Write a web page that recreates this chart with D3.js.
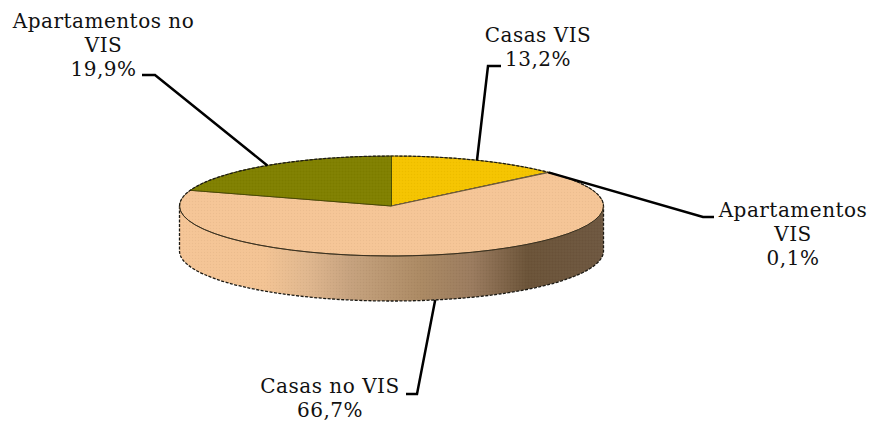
<!DOCTYPE html>
<html><head><meta charset="utf-8">
<script src="https://cdnjs.cloudflare.com/ajax/libs/d3/7.8.5/d3.min.js"></script>
<style>html,body{margin:0;padding:0;background:#fff;overflow:hidden}svg{display:block}</style>
</head><body><svg id="c" width="872" height="421"></svg>
<script>
const categories = ["Casas VIS","Apartamentos VIS","Casas no VIS","Apartamentos no VIS"];
const values = [13.2,0.1,66.7,19.9];
const valueLabels = ["13,2%","0,1%","66,7%","19,9%"];
const labelLines = [["Casas VIS"],["Apartamentos","VIS"],["Casas no VIS"],["Apartamentos no","VIS"]];
const colors = ["#F5C400","#F8D9A0","#F5C596","#808000"];

const cx=391.5,cy=206,rx=212,ry=50,depth=45;
const svg=d3.select("#c");
const X=d3.scaleLinear().domain([-1,1]).range([cx-rx,cx+rx]);
const Y=d3.scaleLinear().domain([-1,1]).range([cy-ry,cy+ry]);
const pie=d3.pie().sort(null).value(d=>d)(values);
const arc=d3.arc().innerRadius(0).outerRadius(1);
const proj=(a,dy=0)=>[X(Math.sin(a)),Y(-Math.cos(a))+dy];

const defs=svg.append("defs");
const grad=defs.append("linearGradient").attr("id","side").attr("gradientUnits","userSpaceOnUse")
  .attr("x1",cx-rx).attr("x2",cx+rx).attr("y1",0).attr("y2",0);
[[0,"#F5C596"],[0.2,"#F3C393"],[0.3,"#E0B78E"],[0.4,"#C6A27E"],[0.57,"#AB8963"],[0.69,"#9A7B5E"],[0.82,"#6B5338"],[1,"#6E5740"]]
  .forEach(([o,c])=>grad.append("stop").attr("offset",o).attr("stop-color",c));
const dots=defs.append("pattern").attr("id","dots").attr("width",3).attr("height",3).attr("patternUnits","userSpaceOnUse");
dots.append("rect").attr("width",1).attr("height",1).attr("fill","#000").attr("opacity",0.04);
dots.append("rect").attr("x",1.5).attr("y",1.5).attr("width",1).attr("height",1).attr("fill","#fff").attr("opacity",0.06);

// side wall
const L=X(-1),R=X(1);
const wall=`M${L},${cy}A${rx},${ry} 0 0 0 ${R},${cy}L${R},${cy+depth}A${rx},${ry} 0 0 1 ${L},${cy+depth}Z`;
svg.append("path").attr("d",wall).attr("fill","url(#side)");
svg.append("path").attr("d",wall).attr("fill","url(#dots)");
svg.append("path")
  .attr("d",`M${L},${cy}L${L},${cy+depth}A${rx},${ry} 0 0 0 ${R},${cy+depth}L${R},${cy}`)
  .attr("fill","none").attr("stroke","#1c1a14").attr("stroke-width",1.3).attr("stroke-dasharray","3 1.5");

// top face
const topFace=svg.append("g").attr("transform",`translate(${X(0)},${Y(0)}) scale(${rx},${ry})`);
topFace.selectAll("path.s").data(pie).join("path").attr("class","s")
  .attr("d",arc).attr("fill",(d,i)=>colors[i])
  .attr("stroke",(d,i)=>i===3?"#4a4a00":i===0?"#7d6a10":"#6a5838")
  .attr("stroke-width",1).attr("vector-effect","non-scaling-stroke");
svg.append("ellipse").attr("cx",cx).attr("cy",cy).attr("rx",rx).attr("ry",ry).attr("fill","url(#dots)");
// dotted back rim, continuous front rim
svg.append("path")
  .attr("d",`M${L},${cy}A${rx},${ry} 0 0 1 ${R},${cy}`)
  .attr("fill","none").attr("stroke","#1c1a14").attr("stroke-width",1.2).attr("stroke-dasharray","3 1.5");
svg.append("path")
  .attr("d",`M${L},${cy}A${rx},${ry} 0 0 0 ${R},${cy}`)
  .attr("fill","none").attr("stroke","#3a3020").attr("stroke-width",1);

// leader lines
const bends=[[[488,66],[501,66]],[[703,217],[714,217]],[[417,394],[406,394]],[[155,75],[142,75]]];
const line=d3.line();
const anchors=pie.map((d,i)=>{const m=(d.startAngle+d.endAngle)/2;return proj(m,i===2?depth:0);});
svg.append("g").selectAll("path").data(bends).join("path")
  .attr("d",(b,i)=>line([anchors[i],...b]))
  .attr("fill","none").attr("stroke","#000").attr("stroke-width",2.5);

// labels
const labelX=[538,793,330,103.5];
const labelY=[42,217,393,28];
const step=24;
const g=svg.append("g").attr("font-family","'DejaVu Serif',serif").attr("font-size",20).attr("letter-spacing",0.5).attr("fill","#111").attr("text-anchor","middle");
categories.forEach((c,i)=>{
  const lines=[...labelLines[i],valueLabels[i]];
  lines.forEach((t,j)=>g.append("text").attr("x",labelX[i]).attr("y",labelY[i]+j*step).text(t));
});
</script></body></html>
